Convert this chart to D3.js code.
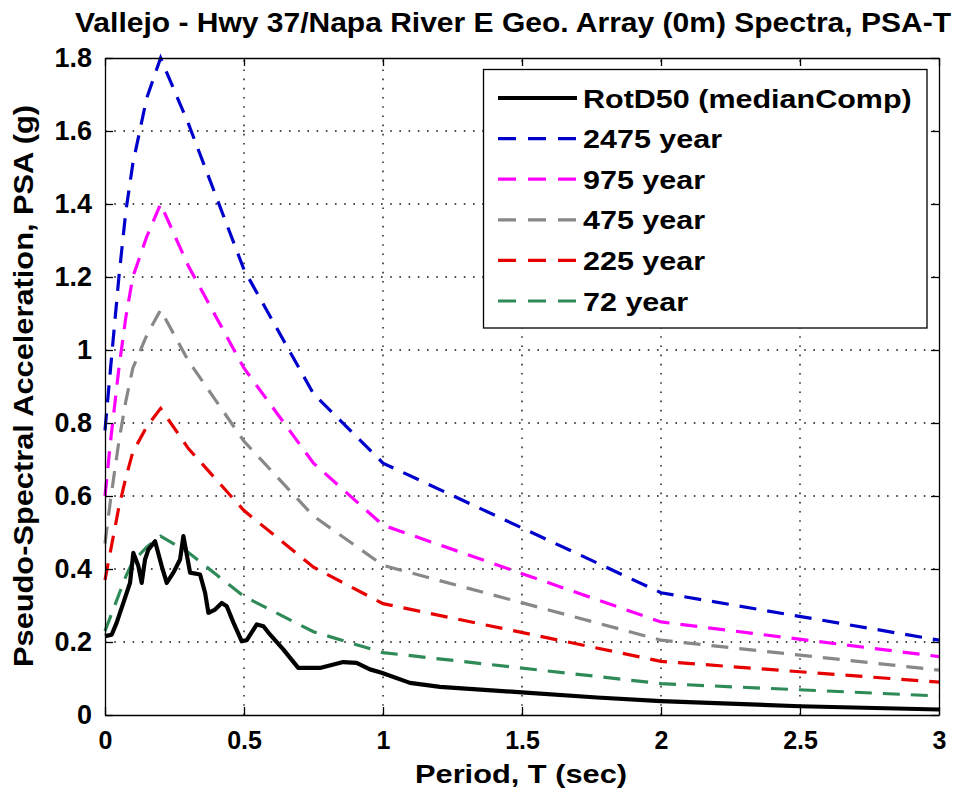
<!DOCTYPE html>
<html><head><meta charset="utf-8">
<script src="https://cdn.jsdelivr.net/npm/d3@7/dist/d3.min.js"></script>
<style>body{margin:0;background:#fff}svg{display:block}</style>
</head><body><svg id="c" width="966" height="794"></svg>
<script>
// ---------- data ----------
const titleText = "Vallejo - Hwy 37/Napa River E Geo. Array (0m) Spectra, PSA-T";
const xLabel = "Period, T (sec)";
const yLabel = "Pseudo-Spectral Acceleration, PSA (g)";

const periods = [0, 0.02, 0.05, 0.075, 0.1, 0.15, 0.2, 0.3, 0.4, 0.5, 0.75, 1, 2, 3];
const rp2475 = [0.78, 0.95, 1.20, 1.38, 1.51, 1.69, 1.80, 1.62, 1.42, 1.22, 0.88, 0.69, 0.335, 0.205];
const rp975  = [0.60, 0.75, 0.95, 1.09, 1.20, 1.31, 1.40, 1.23, 1.09, 0.95, 0.69, 0.52, 0.255, 0.16];
const rp475  = [0.47, 0.59, 0.75, 0.86, 0.95, 1.04, 1.11, 0.97, 0.86, 0.75, 0.545, 0.41, 0.205, 0.123];
const rp225  = [0.37, 0.45, 0.57, 0.65, 0.72, 0.79, 0.84, 0.73, 0.645, 0.56, 0.405, 0.305, 0.147, 0.09];
const rp72   = [0.23, 0.27, 0.33, 0.38, 0.42, 0.46, 0.49, 0.445, 0.385, 0.325, 0.228, 0.171, 0.086, 0.052];

const rotdPeriods = [0, 0.024, 0.042, 0.066, 0.09, 0.102, 0.12, 0.132, 0.144, 0.156, 0.18, 0.204, 0.222, 0.246,
  0.27, 0.282, 0.306, 0.342, 0.36, 0.372, 0.396, 0.42, 0.438, 0.462, 0.492, 0.51, 0.546, 0.57, 0.594, 0.642,
  0.695, 0.773, 0.857, 0.905, 0.953, 0.995, 1.097, 1.205, 1.5, 1.77, 2.0, 2.5, 3.0];
const rotdValues = [0.216, 0.22, 0.253, 0.307, 0.362, 0.444, 0.408, 0.362, 0.426, 0.453, 0.476, 0.408, 0.362, 0.39,
  0.426, 0.49, 0.39, 0.385, 0.335, 0.28, 0.289, 0.307, 0.298, 0.253, 0.202, 0.205, 0.248, 0.243, 0.22, 0.179,
  0.129, 0.129, 0.145, 0.143, 0.125, 0.116, 0.088, 0.077, 0.062, 0.048, 0.038, 0.024, 0.015];

const xTicks = [0, 0.5, 1, 1.5, 2, 2.5, 3];
const xTickLabels = ["0", "0.5", "1", "1.5", "2", "2.5", "3"];
const yTicks = [0, 0.2, 0.4, 0.6, 0.8, 1, 1.2, 1.4, 1.6, 1.8];
const yTickLabels = ["0", "0.2", "0.4", "0.6", "0.8", "1", "1.2", "1.4", "1.6", "1.8"];

const seriesNames = ["RotD50 (medianComp)", "2475 year", "975 year", "475 year", "225 year", "72 year"];
const seriesColors = ["#000000", "#0000cc", "#ff00ff", "#888888", "#e60000", "#2e8b57"];

// ---------- layout ----------
const svg = d3.select("#c");
const L = 105, R = 939, T = 58, B = 715;
const x = d3.scaleLinear().domain([0, 3]).range([L, R]);
const y = d3.scaleLinear().domain([0, 1.8]).range([B, T]);
const FONT = "'Liberation Sans', Arial, Helvetica, sans-serif";

svg.append("rect").attr("width", 966).attr("height", 794).attr("fill", "#fff");
svg.append("rect").attr("x", L).attr("y", T).attr("width", R - L).attr("height", B - T).attr("fill", "#fff");

// grid
const grid = svg.append("g").attr("stroke", "#111").attr("stroke-width", 1.4).attr("stroke-dasharray", "1.6,7.6");
grid.selectAll(".gx").data(xTicks.slice(1, -1)).enter().append("line")
  .attr("x1", d => x(d)).attr("x2", d => x(d)).attr("y1", B).attr("y2", T);
grid.selectAll(".gy").data(yTicks.slice(1, -1)).enter().append("line")
  .attr("x1", L).attr("x2", R).attr("y1", d => y(d)).attr("y2", d => y(d));

// series
const hazard = [rp2475, rp975, rp475, rp225, rp72];
const line = d3.line().x(d => x(d[0])).y(d => y(d[1]));
hazard.slice().reverse().forEach((vals, ri) => {
  const i = hazard.length - ri; // color index
  svg.append("path")
    .datum(periods.map((p, k) => [p, vals[k]]))
    .attr("d", line).attr("fill", "none")
    .attr("stroke", seriesColors[i]).attr("stroke-width", 3.2)
    .attr("stroke-dasharray", "17,11");
});
svg.append("path")
  .datum(rotdPeriods.map((p, k) => [p, rotdValues[k]]))
  .attr("d", line).attr("fill", "none")
  .attr("stroke", seriesColors[0]).attr("stroke-width", 4.2).attr("stroke-linejoin", "round");

// axes
const fmtX = d => xTickLabels[xTicks.indexOf(d)];
const fmtY = d => yTickLabels[yTicks.indexOf(d)];
const axB = svg.append("g").attr("transform", `translate(0,${B})`)
  .call(d3.axisBottom(x).tickValues(xTicks).tickFormat(fmtX).tickSizeInner(-8).tickSizeOuter(0).tickPadding(16));
const axT = svg.append("g").attr("transform", `translate(0,${T})`)
  .call(d3.axisTop(x).tickValues(xTicks).tickFormat("").tickSizeInner(-8).tickSizeOuter(0));
const axLft = svg.append("g").attr("transform", `translate(${L},0)`)
  .call(d3.axisLeft(y).tickValues(yTicks).tickFormat(fmtY).tickSizeInner(-8).tickSizeOuter(0).tickPadding(13));
const axRt = svg.append("g").attr("transform", `translate(${R},0)`)
  .call(d3.axisRight(y).tickValues(yTicks).tickFormat("").tickSizeInner(-8).tickSizeOuter(0));
[axB, axT, axLft, axRt].forEach(a => {
  a.selectAll("path.domain").attr("stroke", "#000").attr("stroke-width", 1.3);
  a.selectAll(".tick line").attr("stroke", "#000").attr("stroke-width", 1.3);
  a.selectAll("text").attr("fill", "#000").attr("font-family", FONT).attr("font-weight", "bold");
});
axB.selectAll("text").attr("font-size", 25);
axLft.selectAll("text").attr("font-size", 27);

// helper to fit text width
function fit(sel, w) {
  const n = sel.node().getComputedTextLength();
  if (n > 0) sel.attr("textLength", w).attr("lengthAdjust", "spacingAndGlyphs");
}

// title
const tt = svg.append("text").attr("x", 513).attr("y", 32).attr("text-anchor", "middle")
  .attr("font-family", FONT).attr("font-weight", "bold").attr("font-size", 27).attr("fill", "#000")
  .text(titleText);
fit(tt, 876);

// x label
const xl = svg.append("text").attr("x", 521).attr("y", 783).attr("text-anchor", "middle")
  .attr("font-family", FONT).attr("font-weight", "bold").attr("font-size", 25).attr("fill", "#000")
  .text(xLabel);
fit(xl, 212);

// y label
const yl = svg.append("text").attr("transform", "translate(33,386) rotate(-90)").attr("text-anchor", "middle")
  .attr("font-family", FONT).attr("font-weight", "bold").attr("font-size", 27).attr("fill", "#000")
  .text(yLabel);
fit(yl, 562);

// legend
const lg = svg.append("g");
lg.append("rect").attr("x", 483.5).attr("y", 69.5).attr("width", 443.5).attr("height", 258.5)
  .attr("fill", "#fff").attr("stroke", "#000").attr("stroke-width", 1.3);
const rowY = d3.scaleLinear().domain([0, 5]).range([98, 301]);
seriesNames.forEach((name, i) => {
  const cy = rowY(i);
  lg.append("line").attr("x1", 498).attr("x2", 577).attr("y1", cy).attr("y2", cy)
    .attr("stroke", seriesColors[i]).attr("stroke-width", i === 0 ? 4.2 : 3.2)
    .attr("stroke-dasharray", i === 0 ? null : "18,12");
  const t = lg.append("text").attr("x", 583).attr("y", cy + 9.5)
    .attr("font-family", FONT).attr("font-weight", "bold").attr("font-size", 25).attr("fill", "#000")
    .text(name);
  const n = t.node().getComputedTextLength();
  t.attr("textLength", n * 1.22).attr("lengthAdjust", "spacingAndGlyphs");
});
</script></body></html>
